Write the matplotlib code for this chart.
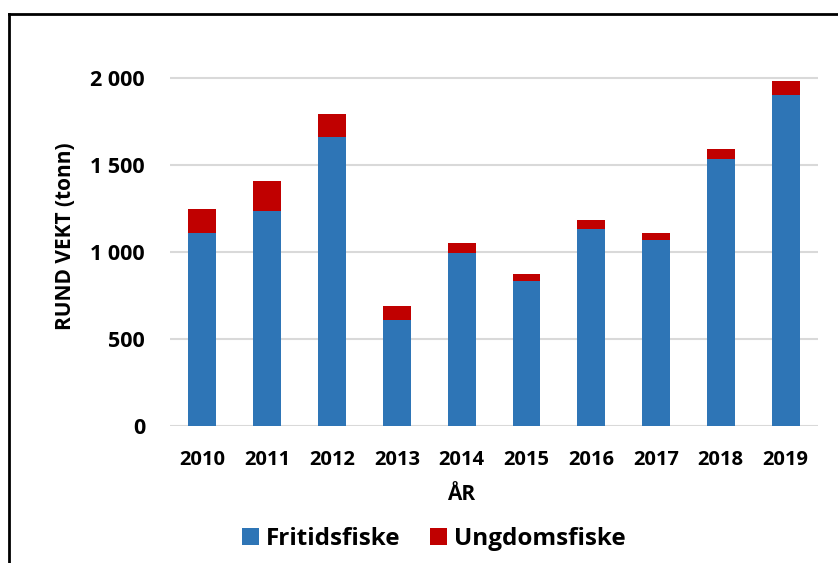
import matplotlib.pyplot as plt
from matplotlib.lines import Line2D

# Data (tonn)
years = ['2010', '2011', '2012', '2013', '2014', '2015', '2016', '2017', '2018', '2019']
fritidsfiske = [1110, 1240, 1660, 609, 996, 837, 1134, 1071, 1538, 1904]
ungdomsfiske = [137, 170, 133, 82, 57, 38, 50, 42, 57, 82]
y_ticks = [0, 500, 1000, 1500, 2000]
y_tick_labels = ['0', '500', '1 000', '1 500', '2 000']

plt.rcParams['font.family'] = ['Open Sans', 'DejaVu Sans']
plt.rcParams['font.weight'] = 'bold'

fig = plt.figure(figsize=(8.38, 5.63), dpi=100)
ax = fig.add_axes([0.2029, 0.2428, 0.7733, 0.6645])

x = range(len(years))
ax.bar(x, fritidsfiske, width=0.43, color='#2E75B6', label='Fritidsfiske', zorder=3)
ax.bar(x, ungdomsfiske, width=0.43, bottom=fritidsfiske, color='#C00000',
       label='Ungdomsfiske', zorder=3)

ax.set_xlim(-0.5, len(years) - 0.5)
ax.set_ylim(0, 2150)
ax.set_yticks(y_ticks)
ax.set_yticklabels(y_tick_labels)
ax.set_xticks(list(x))
ax.set_xticklabels(years)
ax.tick_params(axis='y', length=0, pad=18, labelsize=15.5)
ax.tick_params(axis='x', length=0, pad=17, labelsize=14.5)

ax.grid(axis='y', color='#D9D9D9', linewidth=1.5, zorder=0)
for side in ['top', 'right', 'left', 'bottom']:
    ax.spines[side].set_visible(False)

fig.text(65 / 838, 1 - 236 / 563, 'RUND VEKT (tonn)', rotation=90, ha='center',
         va='center', fontsize=15, fontweight='bold')
fig.text(461 / 838, 1 - 495 / 563, 'ÅR', ha='center', va='center',
         fontsize=15, fontweight='bold')

fig.legend(loc='center', bbox_to_anchor=(434 / 838, 1 - 539 / 563), ncol=2,
           frameon=False, fontsize=17.5, handlelength=0.7, handleheight=0.7,
           handletextpad=0.3, columnspacing=1.2)

# chart area border (left and top edges visible in the crop)
fig.add_artist(Line2D([9 / 838, 9 / 838], [0, 1 - 14 / 563], color='black',
                      linewidth=2, transform=fig.transFigure))
fig.add_artist(Line2D([9 / 838, 1], [1 - 14 / 563, 1 - 14 / 563], color='black',
                      linewidth=2, transform=fig.transFigure))

fig.savefig('out.png', dpi=100)
